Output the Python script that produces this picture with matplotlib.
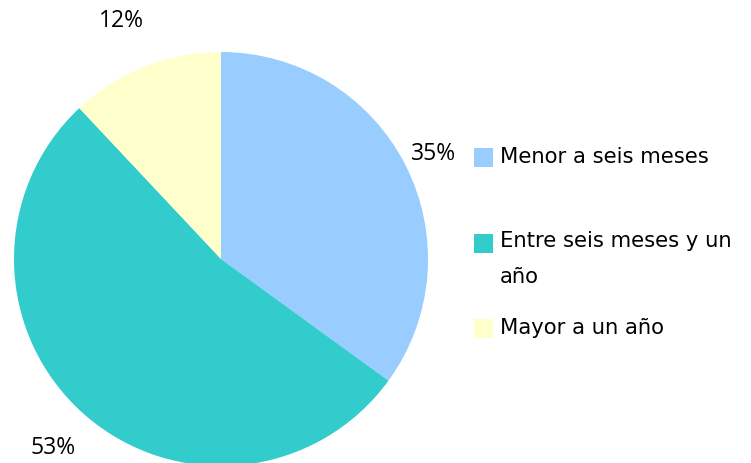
import matplotlib
matplotlib.use("Agg")
import matplotlib.pyplot as plt
from matplotlib.patches import Rectangle

categories = ["Menor a seis meses", "Entre seis meses y un\naño", "Mayor a un año"]
values = [35, 53, 12]
colors = ["#99CCFF", "#33CCCC", "#FFFFCC"]
pct_labels = ["35%", "53%", "12%"]

W, H = 751, 463
fig = plt.figure(figsize=(W / 100, H / 100), dpi=100)
ax = fig.add_axes([0, 0, 1, 1])
ax.set_xlim(0, W)
ax.set_ylim(0, H)
ax.set_aspect("equal")
ax.axis("off")

wedges, _ = ax.pie(values, colors=colors, startangle=90, counterclock=False,
                   center=(221, H - 259), radius=207,
                   wedgeprops=dict(linewidth=0))
ax.set_xlim(0, W)
ax.set_ylim(0, H)

label_pos = [(433, 154), (53, 448), (121, 21)]
for txt, (x, y) in zip(pct_labels, label_pos):
    ax.text(x, H - y, txt, ha="center", va="center", fontsize=16.5,
            family="Open Sans", color="black")

# legend
leg_y = [157, 243, 328]
for cat, col, y in zip(categories, colors, leg_y):
    ax.add_patch(Rectangle((474, H - y - 9.5), 19, 19, facecolor=col,
                           edgecolor="none"))
    if "\n" in cat:
        ax.text(500, H - y + 12, cat, ha="left", va="top",
                fontsize=15.2, family="DejaVu Sans", color="black",
                linespacing=2.0)
    else:
        ax.text(500, H - y, cat, ha="left", va="center",
                fontsize=15.2, family="DejaVu Sans", color="black")

fig.savefig("out.png", dpi=100)
